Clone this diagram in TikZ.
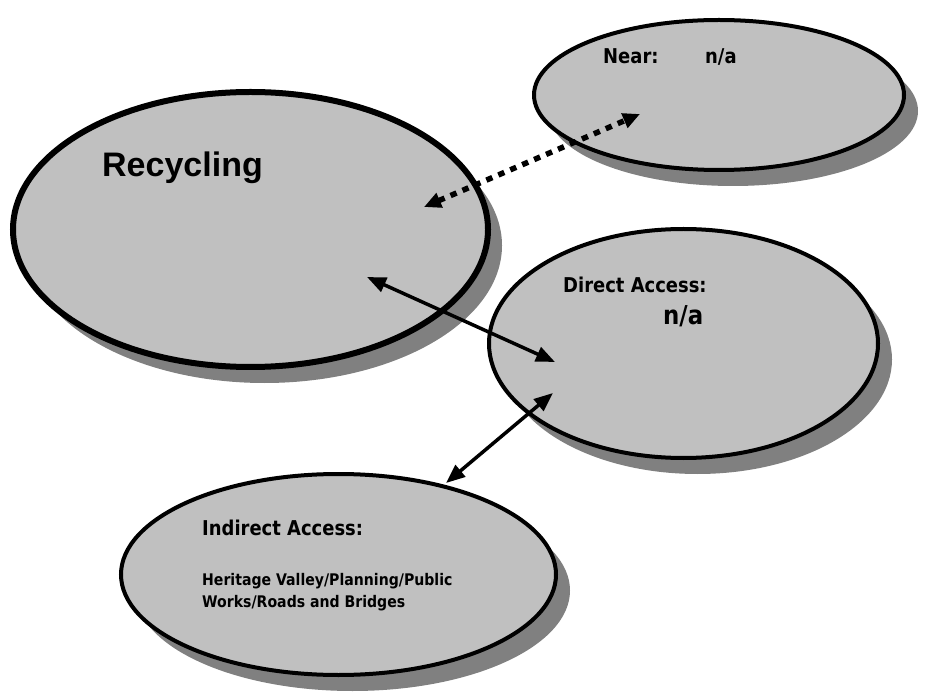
\documentclass[tikz,border=0pt]{standalone}
\usepackage{fontspec}
\setmainfont{Liberation Sans}
\newfontfamily\tahfont{DejaVu Sans}[FakeStretch=0.88]
\usetikzlibrary{shapes.geometric,arrows.meta,shadows}
\definecolor{bubblefill}{HTML}{C0C0C0}
\definecolor{bubbleshade}{HTML}{808080}

\tikzset{
  bubble/.style={ellipse, draw=black, fill=bubblefill, inner sep=0pt, outer sep=0pt,
    line width=4pt,
    drop shadow={shadow xshift=14pt, shadow yshift=-16pt, fill=bubbleshade, opacity=1}},
  headtext/.style={anchor=base west, inner sep=0pt,
    font=\bfseries\fontsize{34}{40}\selectfont},
  lbltext/.style={anchor=base west, inner sep=0pt,
    font=\tahfont\bfseries\fontsize{20.4}{24}\selectfont},
  bigtext/.style={anchor=base west, inner sep=0pt,
    font=\tahfont\bfseries\fontsize{26}{30}\selectfont},
  smalltext/.style={anchor=base west, inner sep=0pt,
    font=\tahfont\bfseries\fontsize{16}{20}\selectfont},
  linksolid/.style={line width=3.5pt,
    {Triangle[length=19pt,width=15pt]}-{Triangle[length=19pt,width=15pt]}},
  linkdot/.style={line width=5.5pt, dash pattern=on 6.5pt off 6.5pt,
    {Triangle[length=17pt,width=15pt]}-{Triangle[length=17pt,width=15pt]}}
}

\begin{document}
\begin{tikzpicture}[x=1pt,y=-1pt]
  \useasboundingbox (0,0) rectangle (934,692);

  % the four bubbles, each with its drop shadow
  \node[bubble, line width=6pt, minimum width=475pt, minimum height=275pt]
    (recycling) at (250.5,229.5) {};
  \node[bubble, minimum width=370pt, minimum height=150pt]
    (near) at (719,95) {};
  \node[bubble, minimum width=389pt, minimum height=229pt]
    (direct) at (683.5,343.5) {};
  \node[bubble, minimum width=435pt, minimum height=201pt]
    (indirect) at (338.5,574.5) {};

  % texts inside the bubbles
  \node[headtext] (recT) at (102,177) {Recycling};
  \node[lbltext] (nearT) at (603,64) {Near:};
  \node[lbltext] (nearV) at (705,64) {n/a};
  \node[lbltext] (directT) at (563,293) {Direct Access:};
  \node[bigtext] (directV) at (663,325) {n/a};
  \node[lbltext] (indirectT) at (202,535) {Indirect Access:};
  \node[smalltext] (indirectL1) at (202,585) {Heritage Valley/Planning/Public};
  \node[smalltext] (indirectL2) at (202,607) {Works/Roads and Bridges};

  % end points of the connectors
  \coordinate (recIn) at (424,207);
  \coordinate (nearIn) at (640,114);
  \coordinate (recLow) at (367,277);
  \coordinate (directUp) at (555,362);
  \coordinate (directLow) at (553,393);
  \coordinate (indirectUp) at (446,483);

  % connectors
  \draw[linkdot] (recIn) -- (nearIn);
  \draw[linksolid] (recLow) -- (directUp);
  \draw[linksolid] (directLow) -- (indirectUp);
\end{tikzpicture}
\end{document}
